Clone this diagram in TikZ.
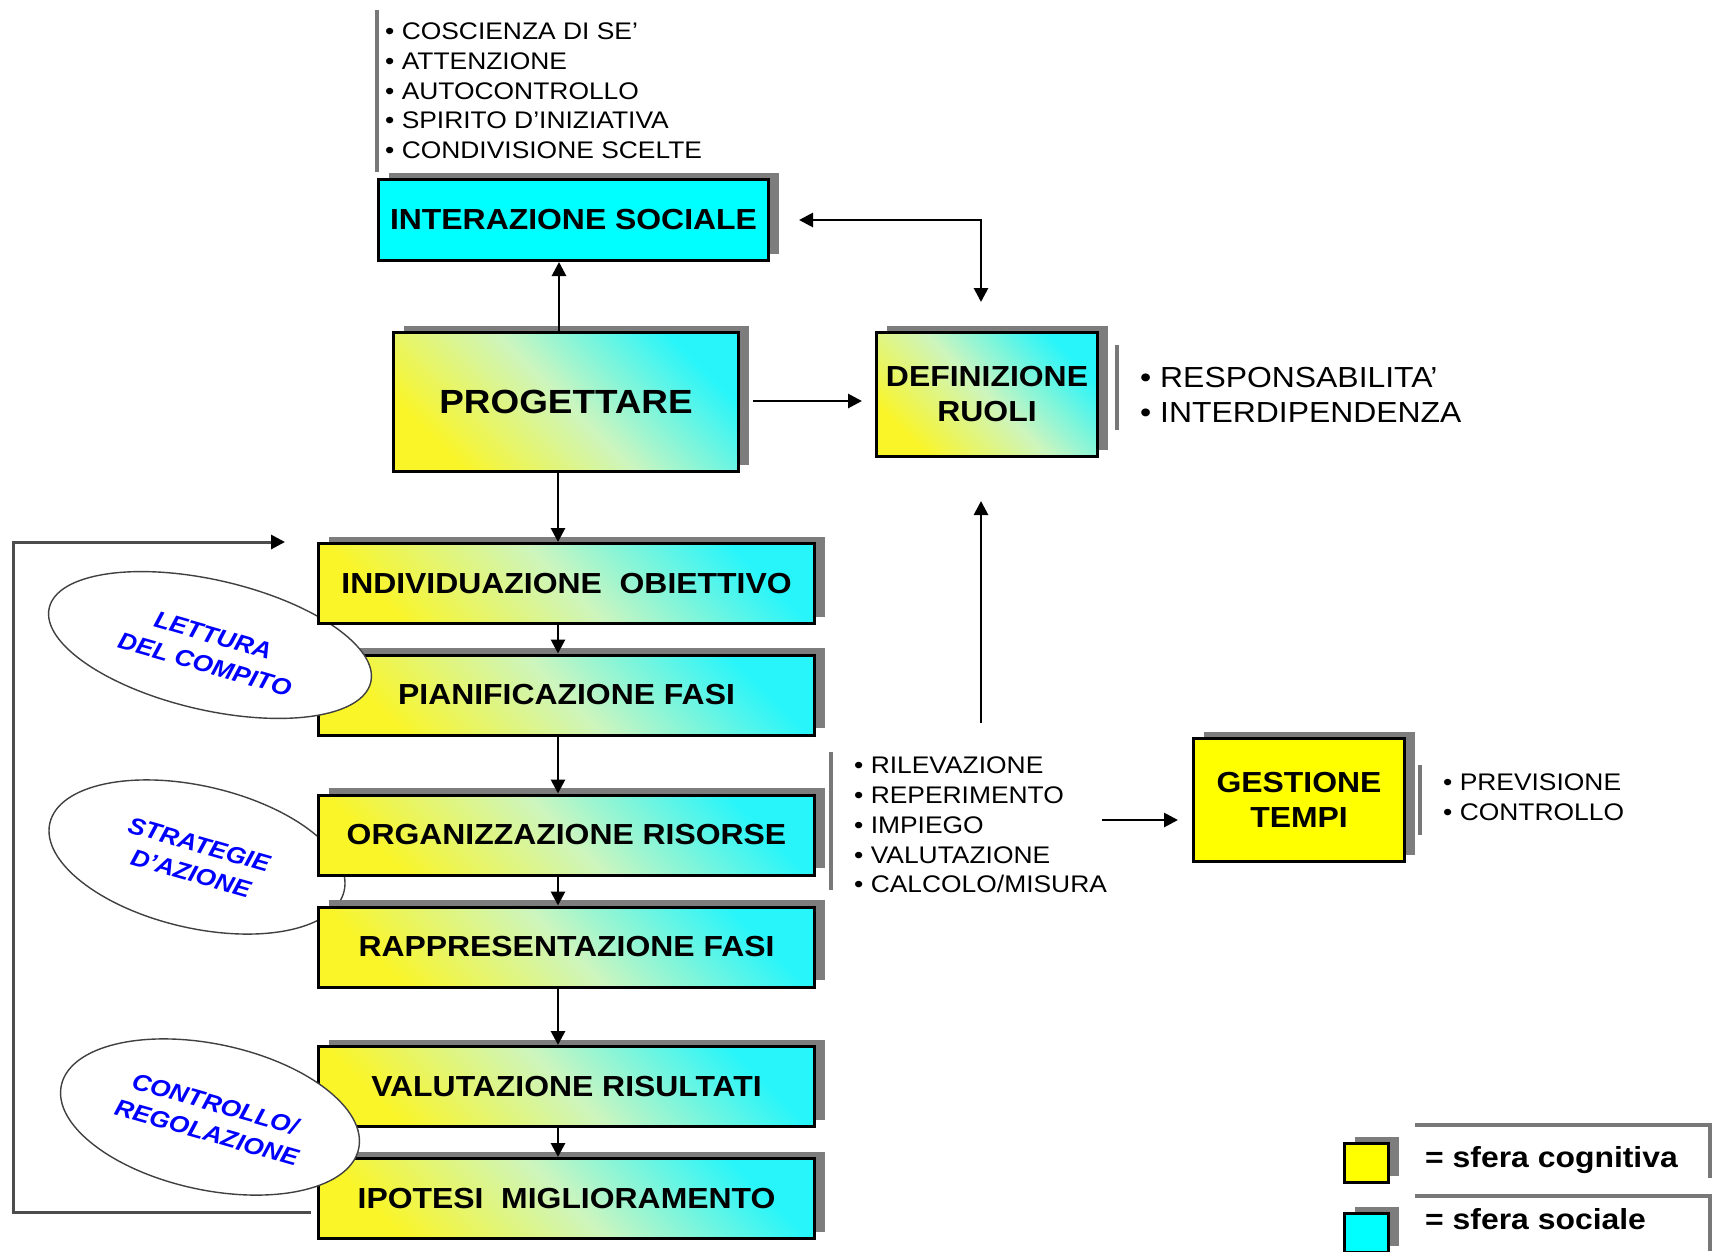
\documentclass[tikz,border=0pt]{standalone}
\usepackage{fontspec}
\setmainfont{Liberation Sans}[FakeStretch=1.1]
\usetikzlibrary{arrows.meta,shadows,shapes.geometric,calc}
\definecolor{cyanc}{RGB}{0,255,255}
\definecolor{yelc}{RGB}{255,255,0}
\definecolor{gyel}{RGB}{250,245,40}
\definecolor{gcya}{RGB}{40,245,250}
\definecolor{gmid}{RGB}{205,245,190}
\definecolor{shadc}{RGB}{125,125,125}
\definecolor{bluc}{RGB}{0,0,255}
\definecolor{brkc}{RGB}{120,120,120}
\begin{document}
\begin{tikzpicture}[x=1pt,y=-1pt,
 sbox/.style={draw=black, line width=3pt, inner sep=0pt, align=center,
   font=\bfseries\fontsize{29}{35}\selectfont,
   drop shadow={shadow xshift=10pt, shadow yshift=7pt, fill=shadc, opacity=1}},
 grad/.style={bottom color=gyel, top color=gcya, middle color=gmid, shading angle=-45},
 colbox/.style={sbox, grad, minimum width=496pt, minimum height=80pt},
 arr/.style={draw=black, line width=2.8pt, -{Triangle[length=14pt,width=14pt]}},
 arrb/.style={draw=black, line width=2.8pt, {Triangle[length=14pt,width=14pt]}-{Triangle[length=14pt,width=14pt]}},
 loopl/.style={draw=black!70, line width=3pt, -{Triangle[length=14pt,width=14pt,color=black]}},
 brk/.style={draw=brkc, line width=3.5pt},
 ell/.style={ellipse, draw=black!75, line width=1.4pt, fill=white, inner sep=0pt},
 etxt/.style={inner sep=0pt, align=center, text=bluc,
   font=\bfseries\itshape\fontsize{23.5}{30}\selectfont},
 li/.style={anchor=west, inner sep=0pt, font=\fontsize{24}{28}\selectfont, text height=17.2pt, text depth=0pt},
 lib/.style={anchor=west, inner sep=0pt, font=\fontsize{29}{34}\selectfont, text height=20.8pt, text depth=0pt},
 legt/.style={anchor=base west, inner sep=0pt, font=\bfseries\fontsize{29}{34}\selectfont}
]
\useasboundingbox (0,0) rectangle (1717,1251);
\fill[white] (0,0) rectangle (1717,1251);

% ellipse behind the boxes
\node[ell, minimum width=302pt, minimum height=142pt, rotate=-13] (strat) at (197,857) {};
\node[etxt, rotate=-16] (strattxt) at (195,859) {STRATEGIE\\D'AZIONE};

% bracket lines
\draw[brk] (377,10) -- (377,172);
\draw[brk] (1117,345) -- (1117,430);
\draw[brk] (831,752) -- (831,890);
\draw[brk] (1420,765) -- (1420,835);
\draw[brk] (1415,1125) -- (1710,1125) -- (1710,1178);
\draw[brk] (1415,1196) -- (1710,1196) -- (1710,1251);

% boxes
\node[sbox, fill=cyanc, minimum width=390pt, minimum height=81pt] (inter) at (573.5,220) {INTERAZIONE SOCIALE};
\node[sbox, grad, minimum width=345pt, minimum height=139pt, font=\bfseries\fontsize{33.5}{40}\selectfont] (prog) at (566,402) {PROGETTARE};
\node[sbox, grad, minimum width=221pt, minimum height=124pt] (defin) at (987,394.5) {DEFINIZIONE\\RUOLI};
\node[sbox, fill=yelc, minimum width=211pt, minimum height=123pt] (gest) at (1299,800) {GESTIONE\\TEMPI};

\node[colbox] (pian) at (566.5,695) {PIANIFICAZIONE FASI};
\node[colbox] (org) at (566.5,835) {ORGANIZZAZIONE RISORSE};
\node[colbox] (rapp) at (566.5,947) {RAPPRESENTAZIONE FASI};
\node[colbox] (val) at (566.5,1086.5) {VALUTAZIONE RISULTATI};
\node[colbox] (ipot) at (566.5,1198.5) {IPOTESI\ \ MIGLIORAMENTO};
\node[ell, minimum width=330pt, minimum height=130pt, rotate=-13] (lett) at (210,645) {};
\node[etxt, rotate=-16] (letttxt) at (209,650) {LETTURA\\DEL COMPITO};
\node[colbox] (indiv) at (566.5,583.5) {INDIVIDUAZIONE\ \ OBIETTIVO};
\node[ell, minimum width=304pt, minimum height=146pt, rotate=-12] (ctrl) at (210,1117) {};
\node[etxt, rotate=-16] (ctrltxt) at (211,1118) {CONTROLLO/\\REGOLAZIONE};

% lists
\node[li] (t1) at (385,31) {• COSCIENZA DI SE'};
\node[li] (t2) at (385,60.7) {• ATTENZIONE};
\node[li] (t3) at (385,90.4) {• AUTOCONTROLLO};
\node[li] (t4) at (385,120.1) {• SPIRITO D'INIZIATIVA};
\node[li] (t5) at (385,149.8) {• CONDIVISIONE SCELTE};

\node[lib] (d1) at (1140,377) {• RESPONSABILITA'};
\node[lib] (d2) at (1140,412) {• INTERDIPENDENZA};

\node[li] (m1) at (854,765) {• RILEVAZIONE};
\node[li] (m2) at (854,795) {• REPERIMENTO};
\node[li] (m3) at (854,825) {• IMPIEGO};
\node[li] (m4) at (854,855) {• VALUTAZIONE};
\node[li] (m5) at (854,884) {• CALCOLO/MISURA};

\node[li] (g1) at (1443,782) {• PREVISIONE};
\node[li] (g2) at (1443,812) {• CONTROLLO};

% legend
\node[sbox, fill=yelc, minimum width=44pt, minimum height=39pt] (leg1) at (1366.5,1163) {};
\node[sbox, fill=cyanc, minimum width=44pt, minimum height=39pt] (leg2) at (1366.5,1233) {};
\node[legt] (lt1) at (1425,1167) {= sfera cognitiva};
\node[legt] (lt2) at (1425,1229) {= sfera sociale};

% connectors
\coordinate (c1) at (559,0);
\coordinate (c0) at (558,0);
\draw[arr] (prog.north -| c1) -- (inter.south -| c1);
\draw[arr] (prog.south -| c0) -- (indiv.north -| c0);
\draw[arr] (indiv.south -| c0) -- (pian.north -| c0);
\draw[arr] (pian.south -| c0) -- (org.north -| c0);
\draw[arr] (org.south -| c0) -- (rapp.north -| c0);
\draw[arr] (rapp.south -| c0) -- (val.north -| c0);
\draw[arr] (val.south -| c0) -- (ipot.north -| c0);

\draw[arr] ($(prog.east)+(13,-1)$) -- ($(prog.east -| defin.west)+(-13,-1)$);
\coordinate (c2) at (981,0);
\draw[arrb] ($(defin.north -| c2)+(0,-29)$) |- ($(inter.east)+(29,0)$);
\coordinate (upst) at (981,723);
\draw[arr] (upst) -- ($(defin.south -| c2)+(0,43)$);
\coordinate (gst) at (1102,820);
\draw[arr] (gst) -- ($(gest.west)+(-14,20)$);
\coordinate (loopc) at (13,542);
\draw[loopl] ($(ipot.west)+(-6,13.5)$) -| (loopc) -- ($(indiv.north west)+(-32,0)$);
\end{tikzpicture}
\end{document}
